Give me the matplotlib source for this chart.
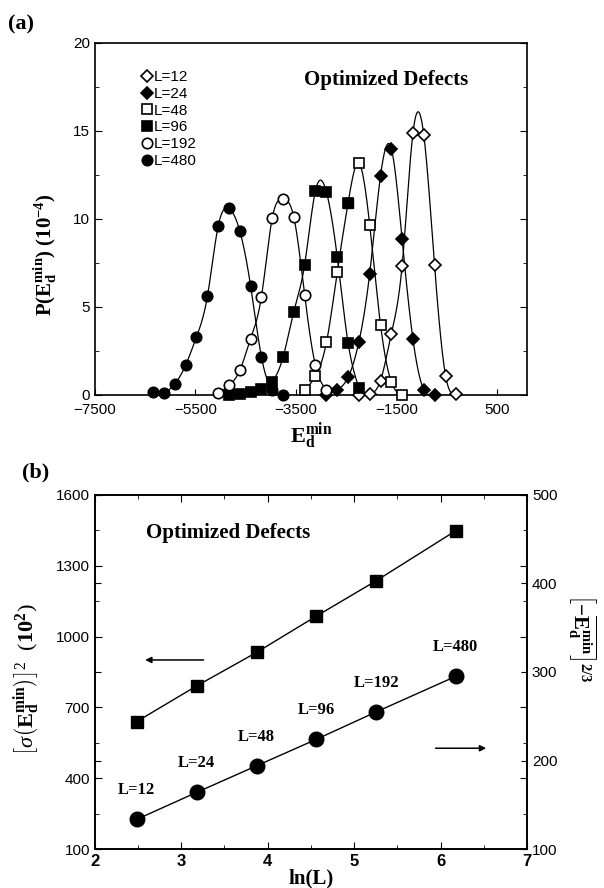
import numpy as np
import matplotlib
matplotlib.use("Agg")
import matplotlib.pyplot as plt
from matplotlib.ticker import MultipleLocator

plt.rcParams["font.family"] = ["Liberation Sans", "DejaVu Sans"]
plt.rcParams["mathtext.fontset"] = "custom"
plt.rcParams["mathtext.rm"] = "Liberation Serif"
plt.rcParams["mathtext.it"] = "Liberation Serif:italic"
plt.rcParams["mathtext.bf"] = "Liberation Serif:bold"

# ---- panel (a): distributions of E_d^min ----
e480 = [-6340, -6125, -5910, -5695, -5480, -5260, -5045, -4830, -4615, -4400, -4185, -3970, -3755]
p480 = [0.18, 0.14, 0.62, 1.68, 3.28, 5.6, 9.6, 10.6, 9.32, 6.2, 2.17, 0.3, 0.0]
e192 = [-5045, -4830, -4615, -4400, -4185, -3970, -3755, -3540, -3325, -3110, -2890]
p192 = [0.1, 0.54, 1.4, 3.2, 5.58, 10.05, 11.12, 10.1, 5.7, 1.68, 0.3]
e96 = [-4830, -4615, -4400, -4185, -3970, -3755, -3540, -3325, -3110, -2890, -2675, -2460, -2245]
p96 = [0.0, 0.03, 0.19, 0.32, 0.76, 2.14, 4.74, 7.4, 11.6, 11.52, 7.82, 2.95, 0.4]
e48 = [-3325, -3110, -2890, -2675, -2460, -2245, -2030, -1815, -1600, -1385]
p48 = [0.29, 1.06, 3.0, 7.0, 10.92, 13.17, 9.66, 4.0, 0.74, 0.0]
e24 = [-2890, -2675, -2460, -2245, -2030, -1815, -1600, -1385, -1170, -955, -740]
p24 = [0.0, 0.29, 1.0, 3.02, 6.9, 12.45, 14.0, 8.85, 3.18, 0.3, 0.0]
e12 = [-2245, -2030, -1815, -1600, -1385, -1170, -955, -740, -520, -305]
p12 = [0.0, 0.05, 0.82, 3.47, 7.35, 14.87, 14.8, 7.4, 1.1, 0.03]
# one L=48 marker is printed filled in the original
l48_filled = [4]

# ---- panel (b): scaling with ln(L) ----
sizes = [12, 24, 48, 96, 192, 480]
sigma2 = [640, 791, 933, 1087, 1237, 1448]      # left axis, (10^2)
emin23 = [133.5, 164, 194, 224, 255, 295]      # right axis


def smooth(x, y, n=300):
    """natural cubic spline through the points (for the drawn curve only)"""
    x = np.asarray(x, float); y = np.asarray(y, float)
    m = len(x); h = np.diff(x)
    A = np.zeros((m, m)); r = np.zeros(m)
    A[0, 0] = A[-1, -1] = 1
    for i in range(1, m - 1):
        A[i, i - 1] = h[i - 1]; A[i, i] = 2 * (h[i - 1] + h[i]); A[i, i + 1] = h[i]
        r[i] = 6 * ((y[i + 1] - y[i]) / h[i] - (y[i] - y[i - 1]) / h[i - 1])
    M = np.linalg.solve(A, r)
    xs = np.linspace(x[0], x[-1], n)
    j = np.clip(np.searchsorted(x, xs) - 1, 0, m - 2)
    t0 = xs - x[j]; t1 = x[j + 1] - xs; hj = h[j]
    ys = (M[j] * t1 ** 3 + M[j + 1] * t0 ** 3) / (6 * hj) \
        + (y[j] / hj - M[j] * hj / 6) * t1 + (y[j + 1] / hj - M[j + 1] * hj / 6) * t0
    return xs, ys


fig = plt.figure(figsize=(6.04, 8.88), dpi=100)

# ================= (a) =================
ax = fig.add_axes([0.157, 0.5552, 0.7155, 0.3964])
series = [
    ("L=12", e12, p12, "D", "white"),
    ("L=24", e24, p24, "D", "black"),
    ("L=48", e48, p48, "s", "white"),
    ("L=96", e96, p96, "s", "black"),
    ("L=192", e192, p192, "o", "white"),
    ("L=480", e480, p480, "o", "black"),
]
for lab, ex, py, mk, fc in series:
    xs, ys = smooth(ex, py)
    ax.plot(xs, ys, color="black", lw=0.9)
    ms = 6.5 if mk == "D" else 7.5
    ax.plot(ex, py, ls="none", marker=mk, ms=ms, mfc=fc, mec="black", mew=1.2,
            clip_on=False, zorder=3, label=lab)
ax.plot([e48[i] for i in l48_filled], [p48[i] for i in l48_filled], ls="none",
        marker="s", ms=7.5, mfc="black", mec="black", clip_on=False, zorder=4)

ax.set_xlim(-7500, 1100)
ax.set_ylim(0, 20)
ax.set_xticks([-7500, -5500, -3500, -1500, 500])
ax.yaxis.set_major_locator(MultipleLocator(5))
ax.yaxis.set_minor_locator(MultipleLocator(2.5))
ax.tick_params(axis="y", which="both", direction="in", left=True, right=True, labelsize=11)
ax.tick_params(axis="y", which="major", length=5)
ax.tick_params(axis="y", which="minor", length=3)
ax.tick_params(axis="x", direction="in", length=4, labelsize=11, pad=6)
for s in ax.spines.values():
    s.set_linewidth(1.2)
ax.set_xlabel(r"$\mathbf{E_d^{min}}$", fontsize=16, labelpad=2)
fig.text(0.075, 0.713, r"$\mathbf{P(E_d^{min})\ (10^{-4})}$", rotation=90,
         fontsize=15, ha="center", va="center")
ax.text(0.675, 0.895, "Optimized Defects", transform=ax.transAxes, fontsize=15,
        fontweight="bold", family="Liberation Serif", ha="center", va="center")
ax.legend(loc="upper left", bbox_to_anchor=(0.095, 0.94), frameon=False, fontsize=11,
          handlelength=0.6, handletextpad=0.15, labelspacing=0.18, borderaxespad=0)
fig.text(0.013, 0.984, "(a)", fontsize=16, fontweight="bold", family="Liberation Serif",
         ha="left", va="top")

# ================= (b) =================
lnL = np.log(sizes)
bx = fig.add_axes([0.157, 0.0439, 0.7155, 0.3987])
bx2 = bx.twinx()
bx.plot(lnL, sigma2, color="black", lw=1.0, marker="s", ms=9, mfc="black", mec="black",
        clip_on=False, zorder=3)
bx2.plot(lnL, emin23, color="black", lw=1.0, marker="o", ms=10.5, mfc="black", mec="black",
         clip_on=False, zorder=3)
for L, xv, yv in zip(sizes, lnL, emin23):
    bx2.annotate(f"L={L}", (xv, yv), xytext=(0, 21), textcoords="offset points",
                 ha="center", va="center", fontsize=12, fontweight="bold",
                 family="Liberation Serif")

bx.set_xlim(2, 7)
bx.set_ylim(100, 1600)
bx2.set_ylim(100, 500)
bx.xaxis.set_major_locator(MultipleLocator(1))
bx.xaxis.set_minor_locator(MultipleLocator(0.5))
bx.set_yticks(np.arange(100, 1601, 300))
bx.set_yticks(np.arange(250, 1600, 300), minor=True)
bx2.set_yticks(np.arange(100, 501, 100))
bx.tick_params(axis="x", which="both", direction="in", top=True, bottom=True, labelsize=12)
bx.tick_params(axis="y", which="both", direction="in", left=True, right=True, labelsize=11)
bx.tick_params(which="major", length=5)
bx.tick_params(which="minor", length=3)
bx2.tick_params(axis="y", direction="in", left=True, right=True, labelleft=False,
                labelright=True, length=4, labelsize=11)
for t in bx.get_xticklabels():
    t.set_fontweight("bold")
for s in list(bx.spines.values()) + list(bx2.spines.values()):
    s.set_linewidth(1.2)

bx.set_xlabel("ln(L)", fontsize=15, fontweight="bold", family="Liberation Serif", labelpad=0)
fig.text(0.045, 0.235, r"$\left[\sigma\left(\mathbf{E_d^{min}}\right)\right]^2\ \ (\mathbf{10^2})$",
         rotation=90, fontsize=16, ha="center", va="center")
fig.text(0.962, 0.282, r"$\left[\mathbf{-\overline{E_d^{min}}}\right]^{\mathbf{2/3}}$",
         rotation=270, fontsize=15, ha="center", va="center")
bx.text(0.308, 0.893, "Optimized Defects", transform=bx.transAxes, fontsize=15,
        fontweight="bold", family="Liberation Serif", ha="center", va="center")
bx.annotate("", xy=(2.55, 901), xytext=(3.29, 901),
            arrowprops=dict(arrowstyle="-|>", color="black", lw=1.1, mutation_scale=9))
bx.annotate("", xy=(6.56, 527), xytext=(5.91, 527),
            arrowprops=dict(arrowstyle="-|>", color="black", lw=1.1, mutation_scale=9))
fig.text(0.036, 0.468, "(b)", fontsize=16, fontweight="bold", family="Liberation Serif",
         ha="left", va="center")

fig.savefig("out.png", dpi=100)
